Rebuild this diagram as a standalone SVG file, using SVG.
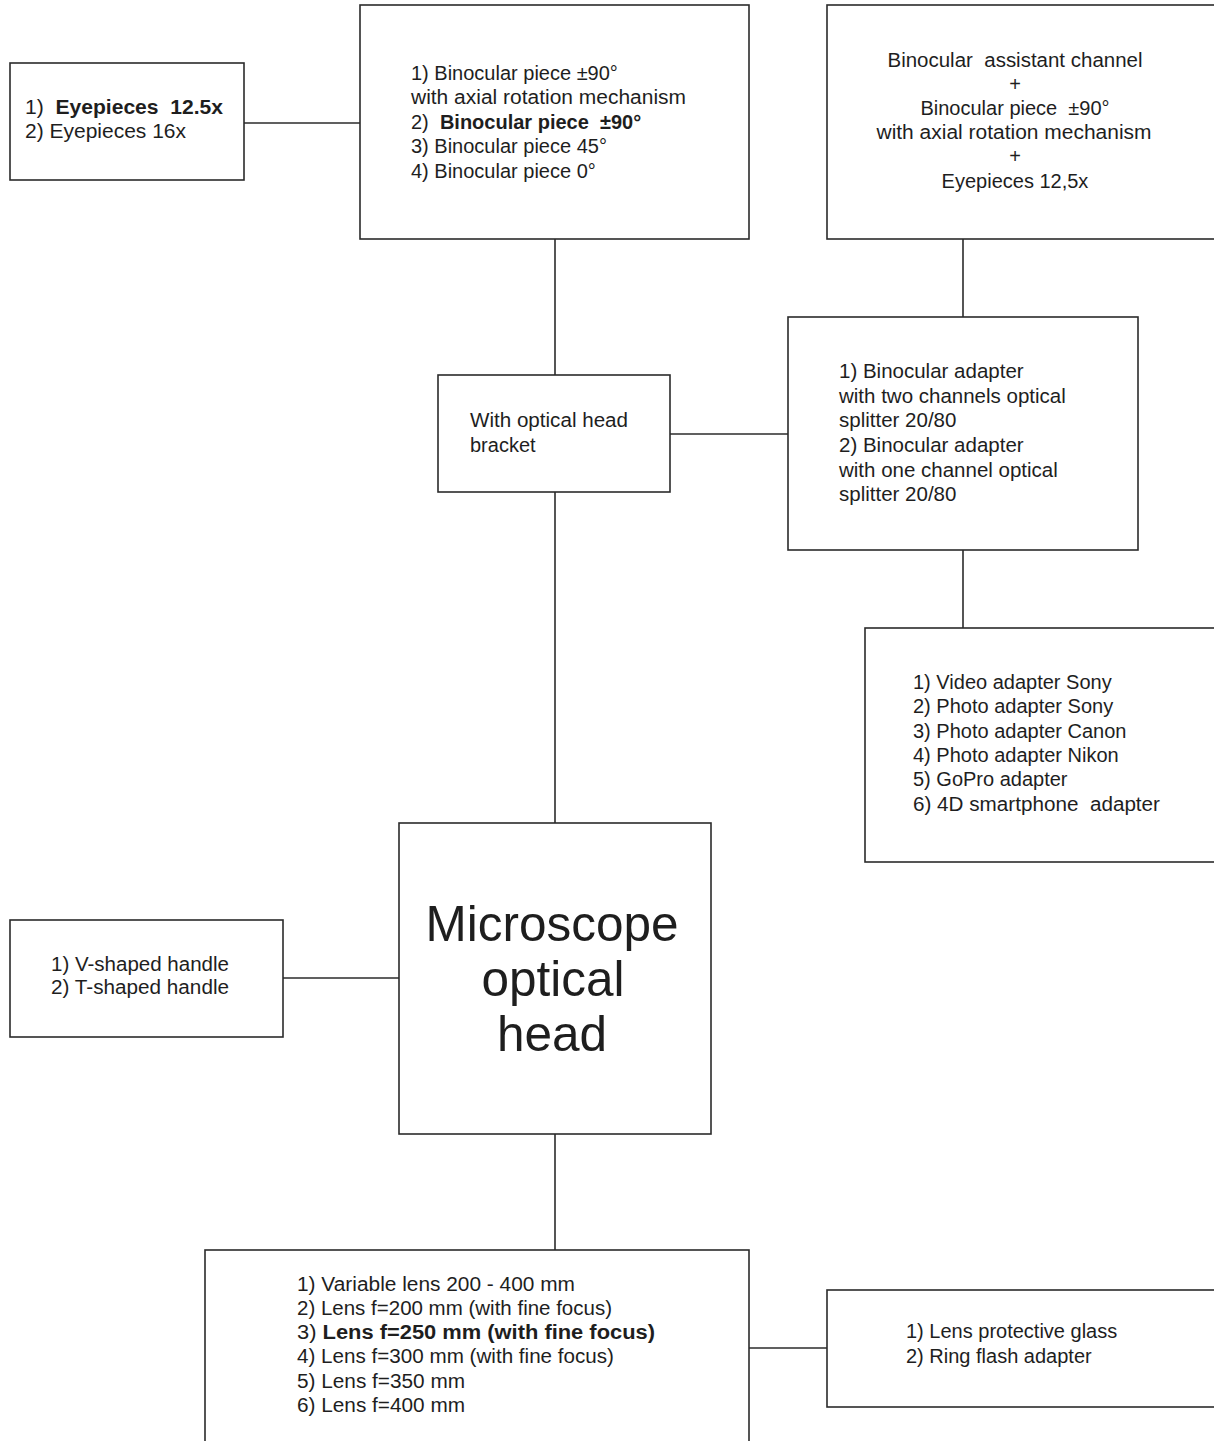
<svg xmlns="http://www.w3.org/2000/svg" width="1214" height="1441" viewBox="0 0 1214 1441">
<style>
.box{fill:#ffffff;stroke:#2b2b2b;stroke-width:1.6}
.ln{fill:none;stroke:#2b2b2b;stroke-width:1.6}
text{font-family:"Liberation Sans",Arial,sans-serif;font-size:20px;fill:#1e1e1e;white-space:pre}
.b{font-weight:bold}
.c{text-anchor:middle}
.big{font-size:49.5px}
.f21{font-size:21px}
.f205{font-size:20.5px}
</style>
<rect x="0" y="0" width="1214" height="1441" fill="#ffffff"/>
<g id="connectors">
<line class="ln" x1="244" y1="123" x2="360" y2="123"/>
<line class="ln" x1="555" y1="239" x2="555" y2="375"/>
<line class="ln" x1="963" y1="239" x2="963" y2="317"/>
<line class="ln" x1="670" y1="434" x2="788" y2="434"/>
<line class="ln" x1="963" y1="550" x2="963" y2="628"/>
<line class="ln" x1="555" y1="492" x2="555" y2="823"/>
<line class="ln" x1="283" y1="978" x2="399" y2="978"/>
<line class="ln" x1="555" y1="1134" x2="555" y2="1250"/>
<line class="ln" x1="749" y1="1348" x2="827" y2="1348"/>
</g>
<g id="eyepieces">
<rect class="box" x="10" y="63" width="234" height="117"/>
<text class="f21" x="25" y="114" textLength="198" lengthAdjust="spacingAndGlyphs">1)  <tspan class="b">Eyepieces  12.5x</tspan></text>
<text class="f21" x="25" y="138" textLength="161" lengthAdjust="spacingAndGlyphs">2) Eyepieces 16x</text>
</g>
<g id="binocular">
<rect class="box" x="360" y="5" width="389" height="234"/>
<text x="411" y="80">1) Binocular piece ±90°</text>
<text x="411" y="104" textLength="275" lengthAdjust="spacingAndGlyphs">with axial rotation mechanism</text>
<text x="411" y="129">2)  <tspan class="b">Binocular piece  ±90°</tspan></text>
<text x="411" y="153">3) Binocular piece 45°</text>
<text x="411" y="178">4) Binocular piece 0°</text>
</g>
<g id="assistant">
<rect class="box" x="827" y="5" width="420" height="234"/>
<text class="c" x="1015" y="67" textLength="255" lengthAdjust="spacingAndGlyphs">Binocular  assistant channel</text>
<text class="c" x="1015" y="91">+</text>
<text class="c" x="1015" y="115">Binocular piece  ±90°</text>
<text class="c" x="1014" y="139" textLength="275" lengthAdjust="spacingAndGlyphs">with axial rotation mechanism</text>
<text class="c" x="1015" y="163">+</text>
<text class="c" x="1015" y="188">Eyepieces 12,5x</text>
</g>
<g id="bracket">
<rect class="box" x="438" y="375" width="232" height="117"/>
<text x="470" y="427" textLength="158" lengthAdjust="spacingAndGlyphs">With optical head</text>
<text x="470" y="452">bracket</text>
</g>
<g id="adapter">
<rect class="box" x="788" y="317" width="350" height="233"/>
<text class="f205" x="839" y="378">1) Binocular adapter</text>
<text class="f205" x="839" y="403">with two channels optical</text>
<text class="f205" x="839" y="427">splitter 20/80</text>
<text class="f205" x="839" y="452">2) Binocular adapter</text>
<text class="f205" x="839" y="477">with one channel optical</text>
<text class="f205" x="839" y="501">splitter 20/80</text>
</g>
<g id="video">
<rect class="box" x="865" y="628" width="380" height="234"/>
<text x="913" y="689">1) Video adapter Sony</text>
<text x="913" y="713">2) Photo adapter Sony</text>
<text x="913" y="738">3) Photo adapter Canon</text>
<text x="913" y="762">4) Photo adapter Nikon</text>
<text x="913" y="786">5) GoPro adapter</text>
<text x="913" y="811" textLength="247" lengthAdjust="spacingAndGlyphs">6) 4D smartphone  adapter</text>
</g>
<g id="head">
<rect class="box" x="399" y="823" width="312" height="311"/>
<text class="c big" x="552" y="941">Microscope</text>
<text class="c big" x="553" y="996">optical</text>
<text class="c big" x="552" y="1051">head</text>
</g>
<g id="handle">
<rect class="box" x="10" y="920" width="273" height="117"/>
<text x="51" y="971" textLength="178" lengthAdjust="spacingAndGlyphs">1) V-shaped handle</text>
<text x="51" y="994" textLength="178" lengthAdjust="spacingAndGlyphs">2) T-shaped handle</text>
</g>
<g id="lens">
<rect class="box" x="205" y="1250" width="544" height="230"/>
<text x="297" y="1291" textLength="278" lengthAdjust="spacingAndGlyphs">1) Variable lens 200 - 400 mm</text>
<text x="297" y="1315" textLength="315" lengthAdjust="spacingAndGlyphs">2) Lens f=200 mm (with fine focus)</text>
<text x="297" y="1339" textLength="358" lengthAdjust="spacingAndGlyphs">3) <tspan class="b">Lens f=250 mm (with fine focus)</tspan></text>
<text x="297" y="1363" textLength="317" lengthAdjust="spacingAndGlyphs">4) Lens f=300 mm (with fine focus)</text>
<text x="297" y="1388" textLength="168" lengthAdjust="spacingAndGlyphs">5) Lens f=350 mm</text>
<text x="297" y="1412" textLength="168" lengthAdjust="spacingAndGlyphs">6) Lens f=400 mm</text>
</g>
<g id="glass">
<rect class="box" x="827" y="1290" width="420" height="117"/>
<text x="906" y="1338">1) Lens protective glass</text>
<text x="906" y="1363">2) Ring flash adapter</text>
</g>
</svg>
